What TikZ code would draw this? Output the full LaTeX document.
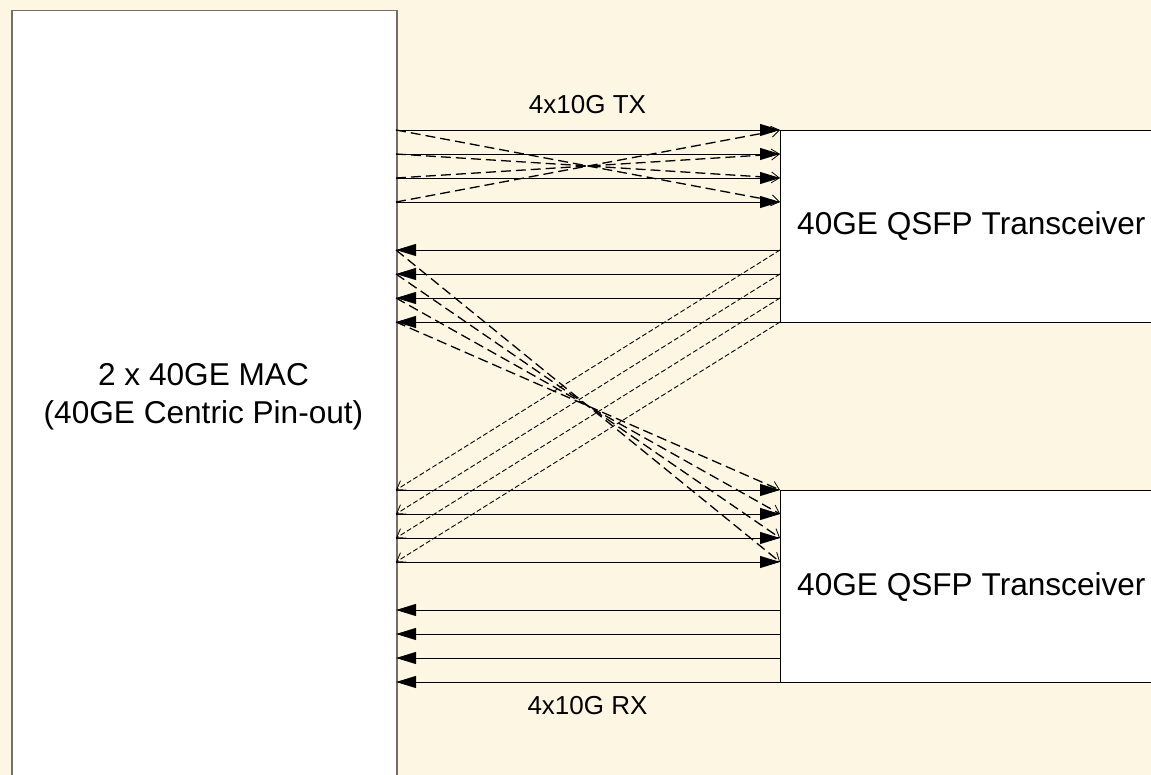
\documentclass[tikz,border=0pt]{standalone}
\usepackage{fontspec}
\setmainfont{Liberation Sans}
\usetikzlibrary{arrows.meta}
\definecolor{bgcream}{RGB}{253,246,227}
\definecolor{macgray}{RGB}{112,112,112}
\begin{document}
\begin{tikzpicture}[x=1pt,y=-1pt,
  macbox/.style={draw=macgray, line width=1.5pt, fill=white, inner sep=0pt, anchor=north west},
  trbox/.style={draw=black, line width=0.9pt, fill=white, inner sep=0pt, anchor=north west},
  solidarrow/.style={draw=black, line width=0.9pt, -{Triangle[length=20pt,width=12pt]}},
  crossdash/.style={draw=black, line width=1.3pt, dash pattern=on 10pt off 5pt, -{Straight Barb[length=8pt,width=11pt,line width=0.8pt]}},
  finedash/.style={draw=black, line width=0.9pt, dash pattern=on 5pt off 2.5pt, -{Straight Barb[length=8pt,width=11pt,line width=0.8pt]}},
  biglabel/.style={font=\fontsize{31.6}{38}\selectfont, inner sep=0pt},
  smalllabel/.style={font=\fontsize{26}{31}\selectfont, inner sep=0pt}]
\useasboundingbox (0,0) rectangle (1151,775);
\clip (0,0) rectangle (1151,775);
\fill[bgcream] (0,0) rectangle (1151,775);
% boxes
\node[macbox, minimum width=385pt, minimum height=800pt] (mac) at (11,10) {};
\node[trbox, minimum width=400pt, minimum height=192pt] (tr1) at (780,130) {};
\node[trbox, minimum width=400pt, minimum height=192pt] (tr2) at (780,490) {};
% port coordinates
\foreach \i/\y in {1/130,2/154,3/178,4/202}{
  \coordinate (ma\i) at (396,\y); \coordinate (ta\i) at (780,\y);}
\foreach \i/\y in {1/250,2/274,3/298,4/322}{
  \coordinate (mb\i) at (396,\y); \coordinate (tb\i) at (780,\y);}
\foreach \i/\y in {1/490,2/514,3/538,4/562}{
  \coordinate (mc\i) at (396,\y); \coordinate (tc\i) at (780,\y);}
\foreach \i/\y in {1/610,2/634,3/658,4/682}{
  \coordinate (md\i) at (396,\y); \coordinate (td\i) at (780,\y);}
% TX to transceiver 1
\foreach \i in {1,...,4}{\draw[solidarrow] (ma\i) -- (ta\i);}
\draw[crossdash] (ma1) -- (ta4);
\draw[crossdash] (ma2) -- (ta3);
\draw[crossdash] (ma3) -- (ta2);
\draw[crossdash] (ma4) -- (ta1);
% RX from transceiver 1
\foreach \i in {1,...,4}{\draw[solidarrow] (tb\i) -- (mb\i);}
\foreach \i in {1,...,4}{\draw[finedash] (tb\i) -- (mc\i);}
% cross to transceiver 2
\draw[crossdash] (mb1) -- (tc4);
\draw[crossdash] (mb2) -- (tc3);
\draw[crossdash] (mb3) -- (tc2);
\draw[crossdash] (mb4) -- (tc1);
% TX to transceiver 2
\foreach \i in {1,...,4}{\draw[solidarrow] (mc\i) -- (tc\i);}
% RX from transceiver 2
\foreach \i in {1,...,4}{\draw[solidarrow] (td\i) -- (md\i);}
% labels
\node[biglabel, anchor=base] (macA) at (203.5,385) {2 x 40GE MAC};
\node[biglabel, anchor=base] (macB) at (203.5,423) {(40GE Centric Pin-out)};
\node[biglabel, anchor=base west] (tr1lab) at (797,235) {40GE QSFP Transceiver};
\node[biglabel, anchor=base west] (tr2lab) at (797,595) {40GE QSFP Transceiver};
\node[smalllabel, anchor=base] (txlab) at (587.5,114) {4x10G TX};
\node[smalllabel, anchor=base] (rxlab) at (587.5,714) {4x10G RX};
\end{tikzpicture}
\end{document}
